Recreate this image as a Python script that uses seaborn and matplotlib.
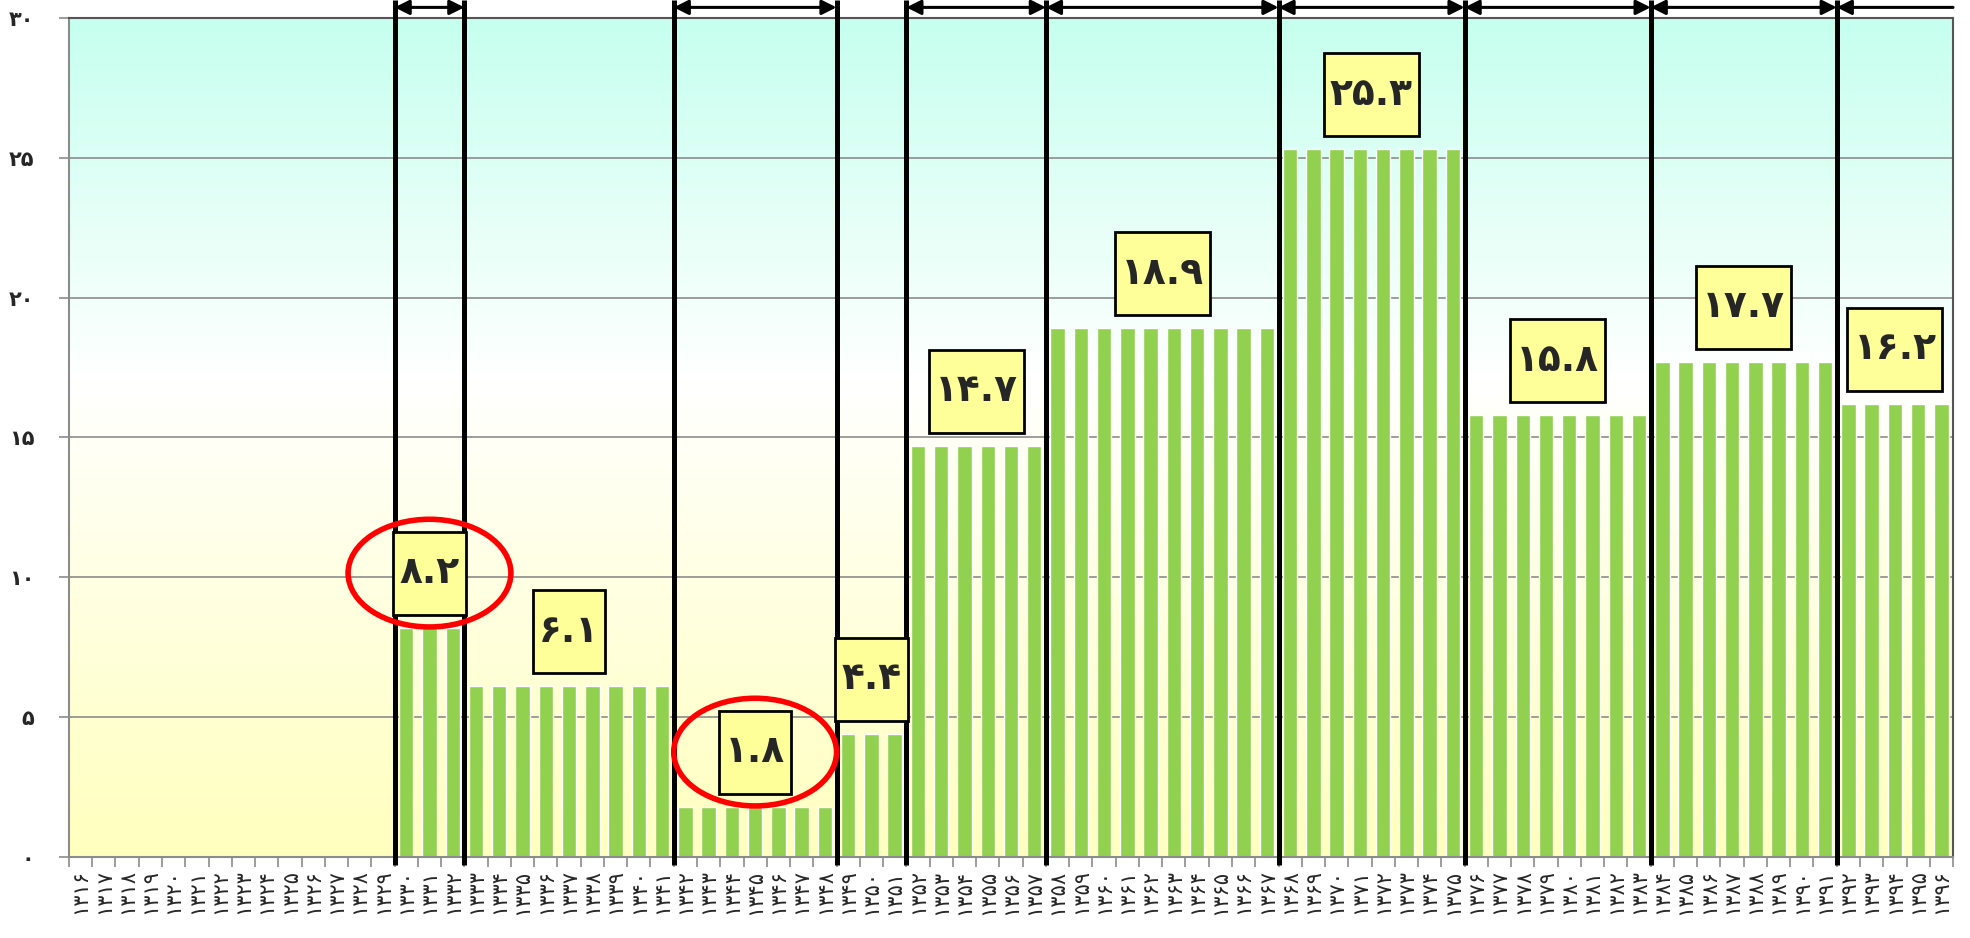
import numpy as np
import pandas as pd
import matplotlib
matplotlib.use('Agg')
import matplotlib.pyplot as plt
import seaborn as sns
from matplotlib.colors import LinearSegmentedColormap
from matplotlib.patches import Ellipse, Rectangle
from matplotlib.transforms import IdentityTransform

sns.set_style('white')
plt.rcParams['font.family'] = ['DejaVu Sans']

# Data: years (Solar Hijri) and average value per period
years = list(range(1316, 1397))
period_starts = [1330, 1333, 1342, 1349, 1352, 1358, 1368, 1376, 1384, 1392]
period_values = [8.2, 6.1, 1.8, 4.4, 14.7, 18.9, 25.3, 15.8, 17.7, 16.2]
period_arrows = [True, False, True, False, True, True, True, True, True, True]
circled = [8.2, 1.8]
y_ticks = [0, 5, 10, 15, 20, 25, 30]

fa_digits = str.maketrans('0123456789', '۰۱۲۳۴۵۶۷۸۹')


def fa(s):
    return str(s).translate(fa_digits)


# value of each year = value of the period it falls in
yearly = []
for yr in years:
    v = 0.0
    for s, pv in zip(period_starts, period_values):
        if yr >= s:
            v = pv
    yearly.append(v)

df = pd.DataFrame({'year': [fa(y) for y in years], 'value': yearly})

fig = plt.figure(figsize=(19.7, 9.38), dpi=100)
ax = fig.add_axes([0.035, 0.0864, 0.9564, 0.8944])

n = len(years)
xmin, xmax = -0.5, n - 0.5

# gradient background
cmap = LinearSegmentedColormap.from_list('bg', [(0, '#ffffbe'), (0.57, '#ffffff'), (1, '#c6ffee')])
grad = np.linspace(0, 1, 256).reshape(-1, 1)
ax.imshow(grad, extent=[xmin, xmax, 0, 30], origin='lower', aspect='auto', cmap=cmap, zorder=0)

sns.barplot(data=df, x='year', y='value', color='#92d050', saturation=1, width=0.62,
            ax=ax, zorder=2)

ax.set_xlim(xmin, xmax)
ax.set_ylim(0, 30)
ax.set_xlabel('')
ax.set_ylabel('')

# grid
for t in y_ticks[1:-1]:
    ax.axhline(t, color='#8c8c8c', lw=1.2, zorder=1)

# axes styling
for side in ['left', 'bottom']:
    ax.spines[side].set_color('#8c8c8c')
    ax.spines[side].set_linewidth(1.5)
for side in ['top', 'right']:
    ax.spines[side].set_color('#555555')
    ax.spines[side].set_linewidth(1.5)

ax.set_yticks(y_ticks)
ax.set_yticklabels([fa(t) for t in y_ticks], fontsize=15, fontweight='bold')
ax.tick_params(axis='y', length=7, width=1.2, color='#8c8c8c', pad=18, left=True)

ax.set_xticks(range(n))
ax.set_xticklabels([fa(y) for y in years], rotation=90, fontsize=15)
ax.set_xticks(np.arange(xmin, xmax + 0.01, 1), minor=True)
ax.tick_params(axis='x', which='major', length=0, pad=9)
ax.tick_params(axis='x', which='minor', length=7, width=1.2, color='#8c8c8c', bottom=True)

# period boundaries
idx = {y: i for i, y in enumerate(years)}
bounds = [idx[s] - 0.5 for s in period_starts]
ax.vlines(bounds, -0.3, 30.65, color='black', lw=3.6, zorder=6, clip_on=False)

# arrows above the plot
ends = bounds[1:] + [xmax]
for k, (x0, x1, has) in enumerate(zip(bounds, ends, period_arrows)):
    if not has:
        continue
    style = '<|-|>' if k < len(bounds) - 1 else '<|-'
    ax.annotate('', xy=(x1, 30.38), xytext=(x0, 30.38), annotation_clip=False,
                arrowprops=dict(arrowstyle=style, color='black', lw=2.2,
                                mutation_scale=22, shrinkA=0, shrinkB=0))

# value labels
texts = []
for x0, x1, v in zip(bounds, ends, period_values):
    xc = (x0 + x1) / 2
    t = ax.text(xc, v + 1.95, fa(v), ha='center', va='center', fontsize=27,
                fontweight='bold', zorder=9, clip_on=False)
    texts.append(t)

fig.canvas.draw()
renderer = fig.canvas.get_renderer()
for t in texts:
    bb = t.get_window_extent(renderer)
    w = bb.width + 12
    h = 83
    cx = (bb.x0 + bb.x1) / 2
    cy = (bb.y0 + bb.y1) / 2
    rect = Rectangle((cx - w / 2, cy - h / 2), w, h, transform=IdentityTransform(),
                     facecolor='#ffff99', edgecolor='black', lw=2, zorder=8, clip_on=False)
    ax.add_artist(rect)

# red ellipses around the first and the smallest value
for v in circled:
    k = period_values.index(v)
    xc = (bounds[k] + ends[k]) / 2
    ax.add_patch(Ellipse((xc, v + 1.95), 7.0, 3.85, fill=False, edgecolor='#ff0000',
                         lw=4, zorder=10, clip_on=False))

fig.savefig('out.png', dpi=100)
